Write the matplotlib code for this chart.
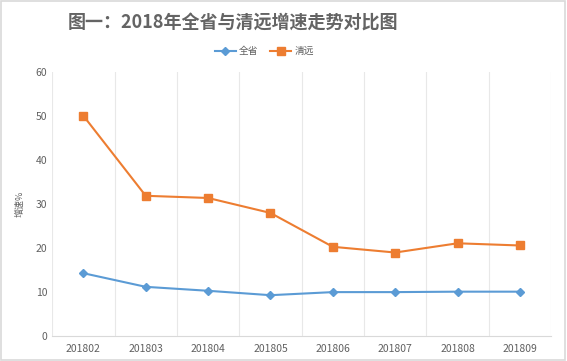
import matplotlib.pyplot as plt
import numpy as np

plt.rcParams['font.family'] = ['Noto Sans CJK SC', 'DejaVu Sans']

months = ['201802', '201803', '201804', '201805', '201806', '201807', '201808', '201809']
quanxing = [14.3, 11.2, 10.3, 9.3, 10.0, 10.0, 10.1, 10.1]
qingyuan = [50.1, 31.9, 31.4, 28.0, 20.3, 19.0, 21.1, 20.6]

fig = plt.figure(figsize=(5.67, 3.61), dpi=100)
fig.patches.append(plt.Rectangle((0.002, 0.003), 0.995, 0.993, transform=fig.transFigure,
                                 fill=False, edgecolor='#d9d9d9', linewidth=1.2))
ax = fig.add_axes([0.092, 0.069, 0.880, 0.731])

x = np.arange(len(months))
ax.plot(x, quanxing, color='#5B9BD5', marker='D', markersize=4.5, linewidth=1.5, label='全省')
ax.plot(x, qingyuan, color='#ED7D31', marker='s', markersize=5.5, linewidth=1.5, label='清远')

ax.set_xlim(-0.5, len(months) - 0.5)
ax.set_ylim(0, 60)
ax.set_yticks(range(0, 61, 10))
ax.set_xticks(x)
ax.set_xticklabels(months)
ax.set_xticks(np.arange(-0.5, len(months), 1), minor=True)
ax.grid(True, which='minor', axis='x', color='#e8e8e8', linewidth=0.8)
ax.tick_params(axis='both', which='both', length=0, colors='#606060', labelsize=7.5)
ax.tick_params(axis='x', pad=6)
for s in ['top', 'right', 'left']:
    ax.spines[s].set_visible(False)
ax.spines['bottom'].set_color('#d9d9d9')
ax.set_ylabel('增速%', fontsize=6.5, color='#606060', labelpad=8)

fig.text(0.411, 0.936, '图一：2018年全省与清远增速走势对比图', ha='center', va='center',
         fontsize=13, fontweight='bold', color='#646464')
fig.legend(loc='center', bbox_to_anchor=(0.466, 0.858), ncol=2, frameon=False,
           fontsize=7, labelcolor='#606060', handlelength=2.2, columnspacing=1.2, handletextpad=0.3)

fig.savefig('out.png', dpi=100)
